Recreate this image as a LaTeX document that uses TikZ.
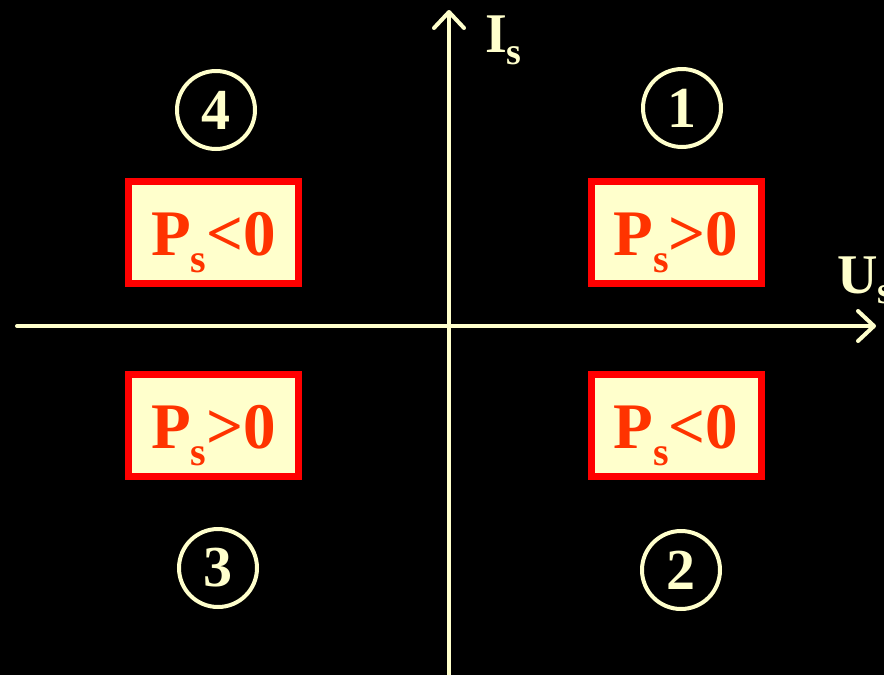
\documentclass[tikz,border=0pt]{standalone}
\usepackage{fontspec}
\setmainfont{Liberation Serif}
\usetikzlibrary{arrows.meta,calc}
\definecolor{cream}{RGB}{255,255,204}
\definecolor{boxred}{RGB}{255,0,0}
\definecolor{boxtext}{RGB}{255,51,0}
\definecolor{boxfill}{RGB}{255,255,204}
\tikzset{
  axis/.style={draw=cream, line width=4pt, line cap=round,
    -{Straight Barb[length=16pt,width=30pt,line width=4pt,round]}},
  quad/.style={draw=boxred, line width=7pt, fill=boxfill,
    minimum width=170pt, minimum height=102pt, inner sep=0pt},
  pstext/.style={text=boxtext, anchor=base, inner sep=0pt,
    font=\fontsize{65}{65}\selectfont\bfseries},
  numc/.style={circle, draw=cream, line width=4pt, minimum size=78pt,
    inner sep=0pt, text=cream, font=\fontsize{58}{58}\selectfont\bfseries},
  axlabel/.style={text=cream, anchor=base west, inner sep=0pt,
    font=\fontsize{56}{56}\selectfont\bfseries}
}
\newcommand{\subs}[1]{\raisebox{-17pt}{\fontsize{40}{40}\selectfont #1}}
\begin{document}
\begin{tikzpicture}[x=1pt,y=-1pt]
  \fill[black] (0,0) rectangle (884,675);
  \useasboundingbox (0,0) rectangle (884,675);
  % axes
  \coordinate (xs) at (17,326);
  \coordinate (xe) at (876,326);
  \coordinate (ys) at (449,675);
  \coordinate (ye) at (449,10);
  \draw[axis] (xs) -- (xe);
  \draw[axis] (ys) -- (ye);
  \node[axlabel] (ilab) at (485,52) {I\raisebox{-12pt}{\fontsize{38}{38}\selectfont s}};
  \node[axlabel] (ulab) at (837,293) {U\raisebox{-10pt}{\fontsize{38}{38}\selectfont s}};
  % boxes
  \node[quad] (b1) at (676,232.5) {};
  \node[quad] (b4) at (213.5,232.5) {};
  \node[quad] (b3) at (213.5,425) {};
  \node[quad] (b2) at (676,425) {};
  \node[pstext] (t1) at ($(b1.center)+(0,23)$) {P\subs{s}>0};
  \node[pstext] (t4) at ($(b4.center)+(0,23)$) {P\subs{s}<0};
  \node[pstext] (t3) at ($(b3.center)+(0,23)$) {P\subs{s}>0};
  \node[pstext] (t2) at ($(b2.center)+(0,23)$) {P\subs{s}<0};
  % circled numbers
  \node[numc] (c1) at (682,108) {1};
  \node[numc] (c4) at (216,110) {4};
  \node[numc] (c3) at (218,568) {3};
  \node[numc] (c2) at (681,570) {2};
\end{tikzpicture}
\end{document}
